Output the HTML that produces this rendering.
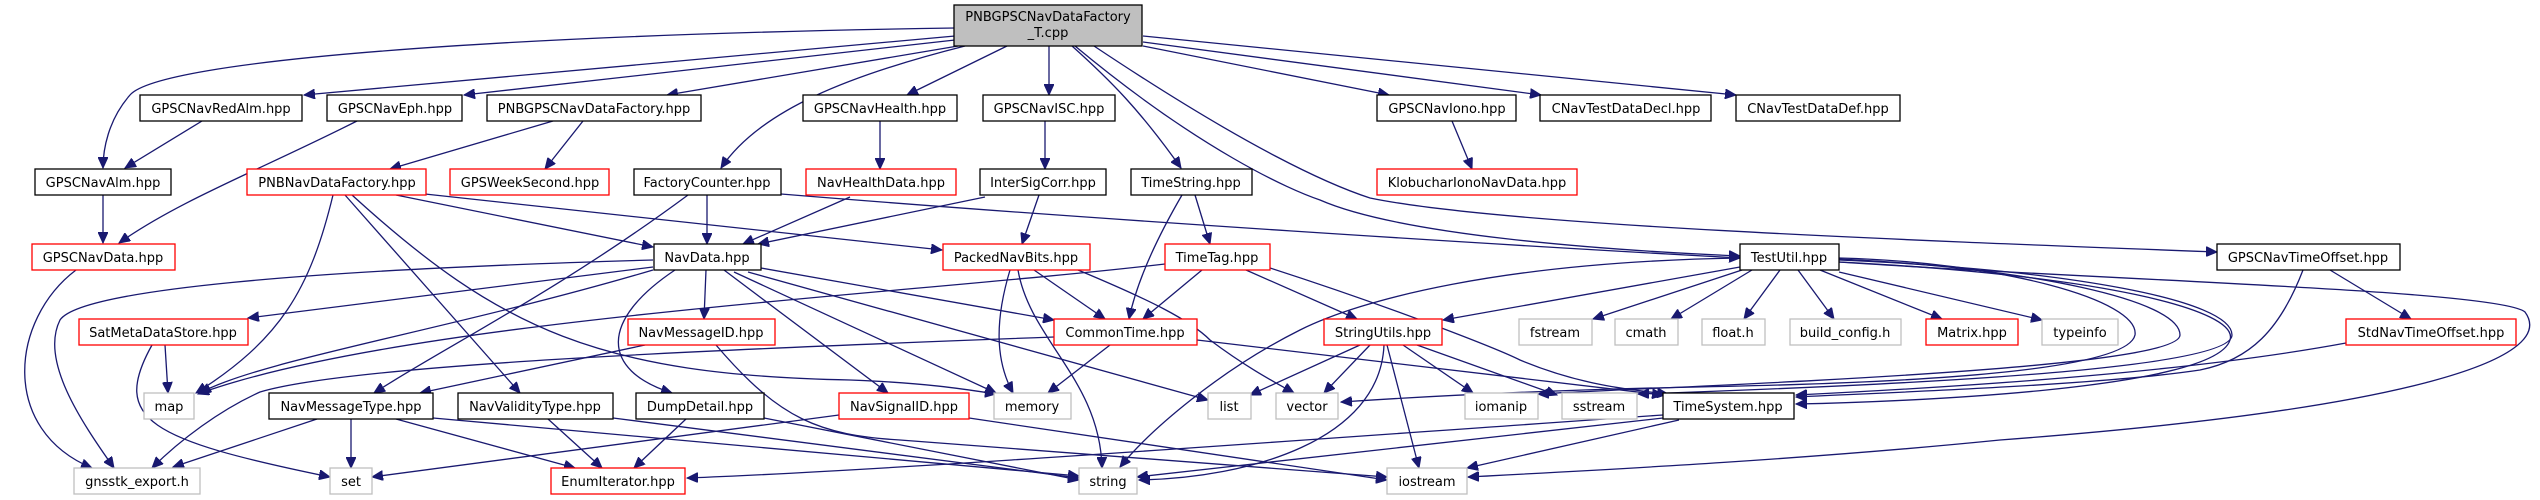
<!DOCTYPE html>
<html><head><meta charset="utf-8"><style>
html,body{margin:0;padding:0;background:#fff;}
svg{display:block;}
text{font-family:"DejaVu Sans","Liberation Sans",sans-serif;font-size:13px;fill:#000;text-anchor:middle;}
.e{fill:none;stroke:#191970;stroke-width:1.3;marker-end:url(#a);}
.n{fill:#fff;stroke:#000;stroke-width:1.3;}
.r{fill:#fff;stroke:#ff0000;stroke-width:1.3;}
.g{fill:#fff;stroke:#bfbfbf;stroke-width:1.3;}
</style></head><body>
<svg width="2540" height="500" viewBox="0 0 2540 500" xmlns="http://www.w3.org/2000/svg">
<defs><marker id="a" markerUnits="userSpaceOnUse" markerWidth="12" markerHeight="10" refX="11" refY="5" orient="auto"><path d="M0,0 L11,5 L0,10 z" fill="#191970" stroke="#191970"/></marker></defs>
<g>
<path class="e" d="M955,28 C 500,35 160,60 130,95 C 108,120 103,150 103,168"/>
<path class="e" d="M955,36 L304,95"/>
<path class="e" d="M955,40 L464,95"/>
<path class="e" d="M958,46 L667,95"/>
<path class="e" d="M965,46 C 850,75 760,110 721,168"/>
<path class="e" d="M1007,46 L907,95"/>
<path class="e" d="M1049,46 L1049,95"/>
<path class="e" d="M1072,46 C 1110,80 1140,110 1181,168"/>
<path class="e" d="M1075,46 C 1200,150 1290,190 1320,200 C 1400,235 1600,250 1740,256"/>
<path class="e" d="M1094,46 C 1250,150 1330,185 1370,198 C 1500,225 1900,240 2217,252"/>
<path class="e" d="M1143,46 L1389,95"/>
<path class="e" d="M1143,42 L1541,95"/>
<path class="e" d="M1143,36 L1736,95"/>
<path class="e" d="M1452,121 L1472,169"/>
<path class="e" d="M202,121 L125,168"/>
<path class="e" d="M357,121 C 260,170 180,200 119,243"/>
<path class="e" d="M103,195 L103,243"/>
<path class="e" d="M76,270 C 10,320 0,430 92,468"/>
<path class="e" d="M553,121 L390,169"/>
<path class="e" d="M583,121 L545,169"/>
<path class="e" d="M333,195 C 310,290 280,340 196,393"/>
<path class="e" d="M345,195 L520,393"/>
<path class="e" d="M352,195 C 500,330 600,375 850,380 C 930,383 970,390 996,394"/>
<path class="e" d="M396,195 L653,247"/>
<path class="e" d="M425,194 L942,250"/>
<path class="e" d="M688,195 C 560,290 440,350 374,393"/>
<path class="e" d="M707,195 L707,244"/>
<path class="e" d="M781,194 C 1100,220 1500,245 1740,258"/>
<path class="e" d="M880,121 L880,169"/>
<path class="e" d="M850,197 L743,244"/>
<path class="e" d="M985,197 L758,244"/>
<path class="e" d="M1045,121 L1045,169"/>
<path class="e" d="M1039,195 L1022,244"/>
<path class="e" d="M1182,195 C 1150,250 1135,290 1129,319"/>
<path class="e" d="M1195,195 L1210,244"/>
<path class="e" d="M1165,264 C 900,295 400,320 198,394"/>
<path class="e" d="M1202,270 L1143,319"/>
<path class="e" d="M1246,270 L1357,319"/>
<path class="e" d="M1270,268 C 1400,310 1500,350 1520,360 C 1580,385 1630,390 1668,394"/>
<path class="e" d="M1010,270 C 995,320 995,360 1013,393"/>
<path class="e" d="M1018,270 C 1030,340 1100,380 1102,468"/>
<path class="e" d="M1034,270 L1105,319"/>
<path class="e" d="M1078,270 C 1150,300 1190,320 1210,340 C 1250,370 1280,385 1294,393"/>
<path class="e" d="M653,260 C 300,270 80,290 60,320 C 40,360 80,420 114,468"/>
<path class="e" d="M653,267 L248,318"/>
<path class="e" d="M653,270 C 450,330 260,360 200,393"/>
<path class="e" d="M706,270 L704,319"/>
<path class="e" d="M675,270 C 600,320 600,370 672,393"/>
<path class="e" d="M724,270 L888,393"/>
<path class="e" d="M734,272 L996,393"/>
<path class="e" d="M748,272 L1208,400"/>
<path class="e" d="M761,268 L1054,320"/>
<path class="e" d="M165,345 L168,393"/>
<path class="e" d="M152,345 C 110,420 150,440 330,477"/>
<path class="e" d="M645,345 L420,393"/>
<path class="e" d="M716,345 C 780,420 820,435 900,440 C 1100,455 1300,470 1387,477"/>
<path class="e" d="M317,419 L173,467"/>
<path class="e" d="M351,419 L351,468"/>
<path class="e" d="M396,419 L575,468"/>
<path class="e" d="M433,418 L1079,476"/>
<path class="e" d="M548,419 L602,468"/>
<path class="e" d="M613,418 L1079,478"/>
<path class="e" d="M686,419 L634,468"/>
<path class="e" d="M764,418 L1079,480"/>
<path class="e" d="M839,415 L372,477"/>
<path class="e" d="M969,418 L1387,480"/>
<path class="e" d="M1054,337 C 700,350 350,365 260,392 C 220,410 180,440 152,468"/>
<path class="e" d="M1110,345 L1048,393"/>
<path class="e" d="M1197,340 L1663,395"/>
<path class="e" d="M1360,345 L1250,395"/>
<path class="e" d="M1370,345 L1324,393"/>
<path class="e" d="M1384,345 C 1380,440 1250,478 1139,480"/>
<path class="e" d="M1387,345 L1419,468"/>
<path class="e" d="M1403,345 L1473,393"/>
<path class="e" d="M1417,345 L1557,395"/>
<path class="e" d="M1740,267 L1443,320"/>
<path class="e" d="M1742,270 L1593,319"/>
<path class="e" d="M1752,270 L1671,319"/>
<path class="e" d="M1780,270 L1744,319"/>
<path class="e" d="M1798,270 L1834,319"/>
<path class="e" d="M1820,270 L1942,319"/>
<path class="e" d="M1839,272 L2042,320"/>
<path class="e" d="M1839,258 C 2000,262 2140,300 2135,335 C 2125,380 1800,385 1650,388 C 1500,392 1400,398 1341,402"/>
<path class="e" d="M1839,259 C 2030,268 2180,300 2180,335 C 2180,370 1700,385 1538,394"/>
<path class="e" d="M1839,260 C 2070,270 2232,300 2232,335 C 2232,370 1900,385 1638,394"/>
<path class="e" d="M1839,262 C 2100,275 2240,310 2230,340 C 2215,390 1900,402 1796,404"/>
<path class="e" d="M1839,262 C 2100,280 2500,290 2525,312 C 2560,360 2400,410 2000,440 C 1800,460 1600,470 1468,477"/>
<path class="e" d="M1740,258 C 1500,262 1360,300 1300,330 C 1220,370 1150,430 1120,467"/>
<path class="e" d="M2330,270 L2411,319"/>
<path class="e" d="M2303,270 C 2280,330 2250,360 2200,370 C 2100,385 1900,392 1796,397"/>
<path class="e" d="M2346,343 C 2200,370 2000,385 1796,395"/>
<path class="e" d="M1663,418 L1137,477"/>
<path class="e" d="M1679,420 L1467,468"/>
<path class="e" d="M1663,415 C 1300,440 900,470 687,478"/>
</g>
<g>
<rect x="954" y="5" width="188" height="41" fill="#bfbfbf" stroke="#000" stroke-width="1.3"/>
<text x="1048" y="21">PNBGPSCNavDataFactory</text><text x="1048" y="37">_T.cpp</text>

<rect class="n" x="140" y="95" width="162" height="26"/><text x="221" y="113">GPSCNavRedAlm.hpp</text>
<rect class="n" x="327" y="95" width="135" height="26"/><text x="395" y="113">GPSCNavEph.hpp</text>
<rect class="n" x="487" y="95" width="214" height="26"/><text x="594" y="113">PNBGPSCNavDataFactory.hpp</text>
<rect class="n" x="803" y="95" width="154" height="26"/><text x="880" y="113">GPSCNavHealth.hpp</text>
<rect class="n" x="983" y="95" width="132" height="26"/><text x="1049" y="113">GPSCNavISC.hpp</text>
<rect class="n" x="1377" y="95" width="139" height="26"/><text x="1447" y="113">GPSCNavIono.hpp</text>
<rect class="n" x="1540" y="95" width="171" height="26"/><text x="1626" y="113">CNavTestDataDecl.hpp</text>
<rect class="n" x="1736" y="95" width="164" height="26"/><text x="1818" y="113">CNavTestDataDef.hpp</text>

<rect class="n" x="35" y="169" width="136" height="26"/><text x="103" y="187">GPSCNavAlm.hpp</text>
<rect class="r" x="247" y="169" width="179" height="26"/><text x="337" y="187">PNBNavDataFactory.hpp</text>
<rect class="r" x="450" y="169" width="159" height="26"/><text x="530" y="187">GPSWeekSecond.hpp</text>
<rect class="n" x="634" y="169" width="147" height="26"/><text x="707" y="187">FactoryCounter.hpp</text>
<rect class="r" x="806" y="169" width="150" height="26"/><text x="881" y="187">NavHealthData.hpp</text>
<rect class="n" x="980" y="169" width="126" height="26"/><text x="1043" y="187">InterSigCorr.hpp</text>
<rect class="n" x="1131" y="169" width="121" height="26"/><text x="1191" y="187">TimeString.hpp</text>
<rect class="r" x="1377" y="169" width="200" height="26"/><text x="1477" y="187">KlobucharIonoNavData.hpp</text>

<rect class="r" x="32" y="244" width="143" height="26"/><text x="103" y="262">GPSCNavData.hpp</text>
<rect class="n" x="654" y="244" width="107" height="26"/><text x="707" y="262">NavData.hpp</text>
<rect class="r" x="943" y="244" width="147" height="26"/><text x="1016" y="262">PackedNavBits.hpp</text>
<rect class="r" x="1165" y="244" width="105" height="26"/><text x="1217" y="262">TimeTag.hpp</text>
<rect class="n" x="1740" y="244" width="99" height="26"/><text x="1789" y="262">TestUtil.hpp</text>
<rect class="n" x="2217" y="244" width="183" height="26"/><text x="2308" y="262">GPSCNavTimeOffset.hpp</text>

<rect class="r" x="79" y="319" width="169" height="26"/><text x="163" y="337">SatMetaDataStore.hpp</text>
<rect class="r" x="628" y="319" width="147" height="26"/><text x="701" y="337">NavMessageID.hpp</text>
<rect class="r" x="1054" y="319" width="143" height="26"/><text x="1125" y="337">CommonTime.hpp</text>
<rect class="r" x="1324" y="319" width="118" height="26"/><text x="1383" y="337">StringUtils.hpp</text>
<rect class="g" x="1519" y="319" width="73" height="26"/><text x="1555" y="337">fstream</text>
<rect class="g" x="1615" y="319" width="63" height="26"/><text x="1646" y="337">cmath</text>
<rect class="g" x="1702" y="319" width="63" height="26"/><text x="1733" y="337">float.h</text>
<rect class="g" x="1790" y="319" width="111" height="26"/><text x="1845" y="337">build_config.h</text>
<rect class="r" x="1926" y="319" width="92" height="26"/><text x="1972" y="337">Matrix.hpp</text>
<rect class="g" x="2042" y="319" width="76" height="26"/><text x="2080" y="337">typeinfo</text>
<rect class="r" x="2346" y="319" width="170" height="26"/><text x="2431" y="337">StdNavTimeOffset.hpp</text>

<rect class="g" x="144" y="393" width="50" height="26"/><text x="169" y="411">map</text>
<rect class="n" x="269" y="393" width="164" height="26"/><text x="351" y="411">NavMessageType.hpp</text>
<rect class="n" x="458" y="393" width="155" height="26"/><text x="535" y="411">NavValidityType.hpp</text>
<rect class="n" x="636" y="393" width="128" height="26"/><text x="700" y="411">DumpDetail.hpp</text>
<rect class="r" x="839" y="393" width="130" height="26"/><text x="904" y="411">NavSignalID.hpp</text>
<rect class="g" x="994" y="393" width="77" height="26"/><text x="1032" y="411">memory</text>
<rect class="g" x="1208" y="393" width="43" height="26"/><text x="1229" y="411">list</text>
<rect class="g" x="1276" y="393" width="62" height="26"/><text x="1307" y="411">vector</text>
<rect class="g" x="1465" y="393" width="73" height="26"/><text x="1501" y="411">iomanip</text>
<rect class="g" x="1562" y="393" width="75" height="26"/><text x="1599" y="411">sstream</text>
<rect class="n" x="1663" y="393" width="131" height="26"/><text x="1728" y="411">TimeSystem.hpp</text>

<rect class="g" x="74" y="468" width="126" height="26"/><text x="137" y="486">gnsstk_export.h</text>
<rect class="g" x="330" y="468" width="42" height="26"/><text x="351" y="486">set</text>
<rect class="r" x="551" y="468" width="134" height="26"/><text x="618" y="486">EnumIterator.hpp</text>
<rect class="g" x="1079" y="468" width="58" height="26"/><text x="1108" y="486">string</text>
<rect class="g" x="1387" y="468" width="80" height="26"/><text x="1427" y="486">iostream</text>
</g>
</svg>
</body></html>
